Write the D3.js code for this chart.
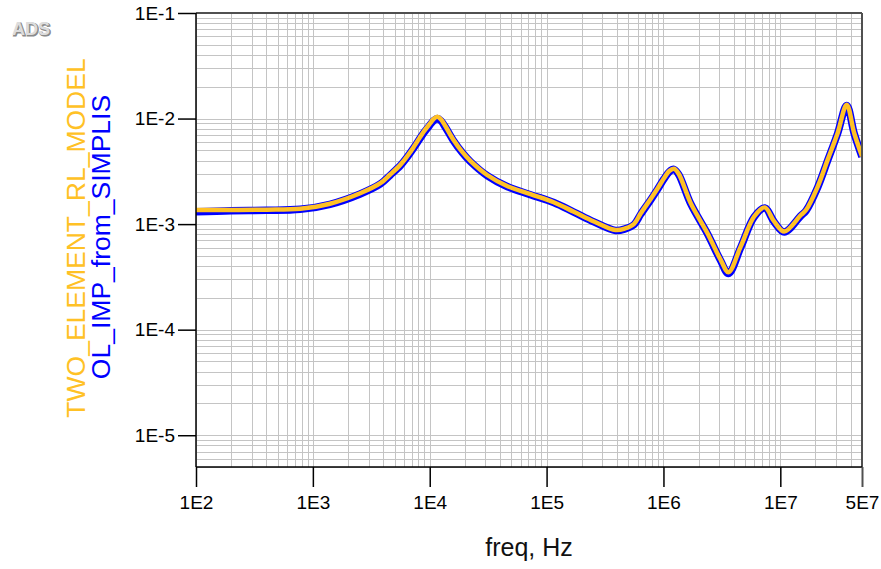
<!DOCTYPE html>
<html>
<head>
<meta charset="utf-8">
<script src="https://cdn.jsdelivr.net/npm/d3@7/dist/d3.min.js"></script>
<style>
  html, body { margin: 0; padding: 0; background: #fff; }
  svg { display: block; font-family: "Liberation Sans", Arial, sans-serif; }
</style>
</head>
<body>
<svg id="chart" width="881" height="569"></svg>
<script>
// ---- data ----
const freq = [100, 200, 400, 780, 1400, 2540, 3780, 4590, 5600, 6380, 7230, 8870, 10000, 10800, 11600, 12500, 13600, 16000,
  19000, 22300, 31000, 45900, 72800, 115000, 171000, 254000, 389000, 470000, 558000, 638000, 777000, 885000, 1010000, 1120000, 1230000,
  1350000, 1710000, 2380000, 3090000, 3600000, 4580000, 5970000, 7370000, 8850000, 10800000, 15000000, 16600000,
  20900000, 25400000, 30900000, 37000000, 42900000, 50000000];
const twoElementRL = [1.36e-3, 1.36e-3, 1.37e-3, 1.40e-3, 1.56e-3, 1.96e-3, 2.44e-3, 2.95e-3, 3.64e-3, 4.36e-3, 5.3e-3, 7.5e-3, 8.9e-3, 9.9e-3, 1.04e-2, 9.8e-3, 8.5e-3, 6.27e-3,
  4.83e-3, 3.97e-3, 2.92e-3, 2.3e-3, 1.92e-3, 1.61e-3, 1.31e-3, 1.06e-3, 8.8e-4, 9.1e-4, 1.0e-3, 1.26e-3, 1.73e-3, 2.15e-3, 2.72e-3, 3.18e-3, 3.35e-3,
  3.0e-3, 1.58e-3, 8.2e-4, 4.58e-4, 3.5e-4, 6.12e-4, 1.18e-3, 1.44e-3, 1.06e-3, 8.5e-4, 1.22e-3, 1.36e-3,
  2.27e-3, 4.06e-3, 7.26e-3, 1.35e-2, 7.26e-3, 4.4e-3];
const olImpSimplis = [1.31e-3, 1.34e-3, 1.35e-3, 1.38e-3, 1.54e-3, 1.93e-3, 2.40e-3, 2.91e-3, 3.58e-3, 4.28e-3, 5.2e-3, 7.3e-3, 8.65e-3, 9.55e-3, 1.0e-2, 9.5e-3, 8.3e-3, 6.15e-3,
  4.75e-3, 3.91e-3, 2.88e-3, 2.27e-3, 1.9e-3, 1.6e-3, 1.3e-3, 1.05e-3, 8.7e-4, 9.0e-4, 9.85e-4, 1.24e-3, 1.70e-3, 2.12e-3, 2.68e-3, 3.13e-3, 3.3e-3,
  2.95e-3, 1.56e-3, 8.1e-4, 4.5e-4, 3.4e-4, 6.0e-4, 1.17e-3, 1.42e-3, 1.05e-3, 8.4e-4, 1.2e-3, 1.34e-3,
  2.24e-3, 4.0e-3, 7.2e-3, 1.33e-2, 7.2e-3, 4.35e-3];
const xTicks = [1e2, 1e3, 1e4, 1e5, 1e6, 1e7, 5e7];
const xTickLabels = ["1E2", "1E3", "1E4", "1E5", "1E6", "1E7", "5E7"];
const yTicks = [1e-1, 1e-2, 1e-3, 1e-4, 1e-5];
const yTickLabels = ["1E-1", "1E-2", "1E-3", "1E-4", "1E-5"];
const seriesNames = ["TWO_ELEMENT_RL_MODEL", "OL_IMP_from_SIMPLIS"];

// ---- layout ----
const L = 196, R = 862, T = 13, B = 467;
const svg = d3.select("#chart");
svg.append("rect").attr("width", 881).attr("height", 569).attr("fill", "#fff");

const x = d3.scaleLog().domain([100, 5e7]).range([L, R]);
const y = d3.scaleLog().domain([5e-6, 0.1]).range([B, T]);

// grid
const gx = [], gy = [];
for (let e = 2; e <= 7; e++) for (let k = 1; k <= 9; k++) { const v = k * Math.pow(10, e); if (v >= 100 && v <= 5e7) gx.push(v); }
for (let e = -6; e <= -1; e++) for (let k = 1; k <= 9; k++) { const v = k * Math.pow(10, e); if (v >= 5e-6 * 0.999 && v <= 0.1 * 1.001) gy.push(v); }
const grid = svg.append("g").attr("stroke", "#c4c4c4").attr("stroke-width", 1);
grid.selectAll("line.gx").data(gx).join("line").attr("class", "gx")
  .attr("x1", d => Math.round(x(d)) + 0.5).attr("x2", d => Math.round(x(d)) + 0.5).attr("y1", T).attr("y2", B);
grid.selectAll("line.gy").data(gy).join("line").attr("class", "gy")
  .attr("y1", d => Math.round(y(d)) + 0.5).attr("y2", d => Math.round(y(d)) + 0.5).attr("x1", L).attr("x2", R);

// clip
svg.append("clipPath").attr("id", "clip").append("rect").attr("x", L).attr("y", T).attr("width", R - L).attr("height", B - T);

const line = d3.line().x(d => x(d[0])).y(d => y(d[1])).curve(d3.curveCatmullRom.alpha(0.5));
const gCurves = svg.append("g").attr("clip-path", "url(#clip)");
gCurves.append("path").datum(freq.map((f, i) => [f, olImpSimplis[i]]))
  .attr("d", line).attr("fill", "none").attr("stroke", "#0000ff").attr("stroke-width", 7.5).attr("stroke-linejoin", "round");
gCurves.append("path").datum(freq.map((f, i) => [f, twoElementRL[i]]))
  .attr("d", line).attr("fill", "none").attr("stroke", "#ffc125").attr("stroke-width", 4.5).attr("stroke-linejoin", "round");

// borders top/right
svg.append("line").attr("x1", L).attr("x2", R).attr("y1", T).attr("y2", T).attr("stroke", "#505050").attr("stroke-width", 2);
svg.append("line").attr("x1", R).attr("x2", R).attr("y1", T).attr("y2", B).attr("stroke", "#505050").attr("stroke-width", 2);

// axes
const yAxis = d3.axisLeft(y).tickValues(yTicks).tickFormat((d, i) => yTickLabels[i]).tickSize(18).tickPadding(3);
const gy_ = svg.append("g").attr("transform", `translate(${L},0)`).call(yAxis);
gy_.select(".domain").attr("stroke", "#000").attr("stroke-width", 1.5).attr("d", `M0,${T}V${B}`);
gy_.selectAll(".tick line").attr("stroke", "#000").attr("stroke-width", 1.5);
gy_.selectAll(".tick text").attr("font-size", 19).attr("fill", "#000").attr("font-family", "Liberation Sans, Arial, sans-serif");

const xAxis = d3.axisBottom(x).tickValues(xTicks).tickFormat((d, i) => xTickLabels[i]).tickSize(20).tickPadding(9);
const gx_ = svg.append("g").attr("transform", `translate(0,${B})`).call(xAxis);
gx_.select(".domain").attr("stroke", "#000").attr("stroke-width", 1.5).attr("d", `M${L},0H${R}`);
gx_.selectAll(".tick line").attr("stroke", (d, i) => i === xTicks.length - 1 ? "#505050" : "#000").attr("stroke-width", (d, i) => i === xTicks.length - 1 ? 2 : 1.5);
gx_.selectAll(".tick text").attr("font-size", 19).attr("fill", "#000").attr("font-family", "Liberation Sans, Arial, sans-serif");

// axis titles
svg.append("text").attr("x", 529).attr("y", 556).attr("text-anchor", "middle")
  .attr("font-size", 25).attr("fill", "#111").text("freq, Hz");
svg.append("text").attr("transform", "translate(85,238) rotate(-90)").attr("text-anchor", "middle")
  .attr("font-size", 26.5).attr("fill", "#ffc125").text(seriesNames[0]);
svg.append("text").attr("transform", "translate(109.5,237) rotate(-90)").attr("text-anchor", "middle")
  .attr("font-size", 26.5).attr("fill", "#0000ff").text(seriesNames[1]);

// ADS logo
svg.append("text").attr("x", 13).attr("y", 36).attr("font-size", 18).attr("font-weight", "bold")
  .attr("fill", "#8a8a8a").attr("stroke", "#8a8a8a").attr("stroke-width", 1).text("ADS");
svg.append("text").attr("x", 12).attr("y", 35).attr("font-size", 18).attr("font-weight", "bold")
  .attr("fill", "#dcdcdc").text("ADS");
</script>
</body>
</html>
